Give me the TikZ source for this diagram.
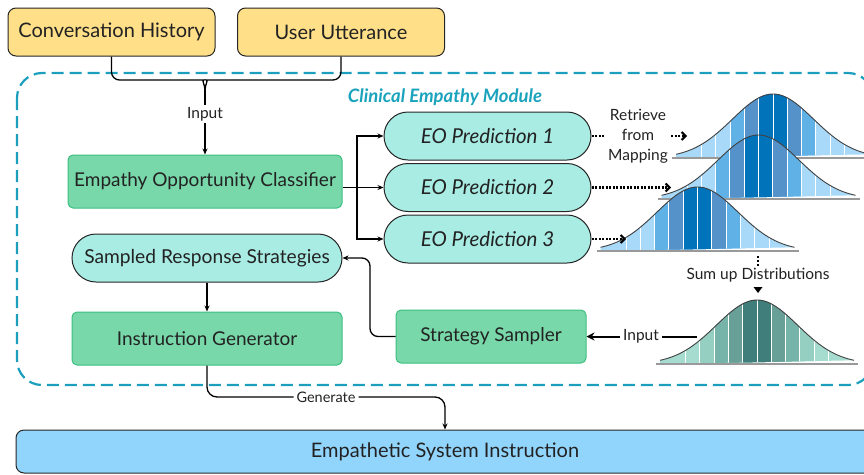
\documentclass[tikz,border=0pt]{standalone}
\usepackage{fontspec}
\setmainfont{Lato}
\usetikzlibrary{arrows.meta,calc}
\definecolor{yellowc}{HTML}{FFDF88}
\definecolor{greenc}{HTML}{78D8AA}
\definecolor{greenb}{HTML}{3DBF80}
\definecolor{tealc}{HTML}{A8ECE4}
\definecolor{esic}{HTML}{92D5FC}
\definecolor{dashc}{HTML}{1C9FBD}
\definecolor{titlec}{HTML}{1AA3BC}
\definecolor{txtc}{HTML}{222222}
\definecolor{bvl}{HTML}{A8D9F8}
\definecolor{bl}{HTML}{5FB1E6}
\definecolor{bs}{HTML}{5592C9}
\definecolor{bd}{HTML}{0073BB}
\definecolor{t0}{HTML}{A6DCCF}
\definecolor{t1}{HTML}{95CFC2}
\definecolor{t2}{HTML}{76B3A8}
\definecolor{t3}{HTML}{68A098}
\definecolor{t4}{HTML}{3F7E7A}
\newcommand{\gaussdist}[7]{%
  \begin{scope}
    \clip (#1-97,#2) -- plot[domain=-97:97,samples=61,smooth] ({#1+\x},{#2-64*exp(-((\x)*(\x))/3300)}) -- cycle;
    \fill[#3] (#1-98,#2+1) rectangle (#1+98,#2-66);
    \fill[#4] (#1-57.2,#2+1) rectangle (#1+57.2,#2-66);
    \fill[#5] (#1-42.9,#2+1) rectangle (#1+42.9,#2-66);
    \fill[#6] (#1-28.6,#2+1) rectangle (#1+28.6,#2-66);
    \fill[#7] (#1-14.3,#2+1) rectangle (#1+14.3,#2-66);
    \foreach \k in {-5,...,5} \draw[white, line width=0.9pt] ({#1+\k*14.3},#2) -- ++(0,-66);
  \end{scope}
  \draw[line width=0.9pt, black!75] plot[domain=-97:97,samples=61,smooth] ({#1+\x},{#2-64*exp(-((\x)*(\x))/3300)});
  \draw[line width=1.3pt, black!40] (#1-101,#2) -- (#1+101,#2);
}
\begin{document}
\begin{tikzpicture}[x=1pt,y=-1pt,
  every node/.style={text=txtc},
  ybox/.style={draw=black!85, fill=yellowc, rounded corners=8, line width=1pt, minimum width=207, minimum height=48, inner sep=0, font=\fontsize{20}{22}\selectfont},
  gbox/.style={draw=greenb, fill=greenc, rounded corners=5, line width=1pt, inner sep=0, font=\fontsize{19}{22}\selectfont},
  pill/.style={draw=black!85, fill=tealc, rounded corners=24, line width=1pt, inner sep=0, minimum height=48, font=\fontsize{19.2}{22}\selectfont},
  eopill/.style={pill, minimum width=207, font=\fontsize{20.5}{22}\selectfont\itshape},
  ebox/.style={draw=black!85, fill=esic, rounded corners=8, line width=1pt, inner sep=0, font=\fontsize{20}{22}\selectfont},
  lbl/.style={fill=white, inner sep=2, font=\fontsize{15.5}{18}\selectfont},
  arr/.style={-{Stealth[length=6pt,width=5pt]}, line width=1.3pt, black},
  conn/.style={line width=1.3pt, black},
  dotarr/.style={line width=2.2pt, dash pattern=on 2pt off 1.5pt, -{Straight Barb[length=4pt,width=8pt,line width=2pt]}},
  dotln/.style={line width=2.2pt, dash pattern=on 2pt off 1.5pt},
  modbox/.style={draw=dashc, line width=2.2pt, dash pattern=on 12pt off 6pt, rounded corners=25}
]
\useasboundingbox (0,0) rectangle (864,474);

% module frame
\draw[modbox] (17,73) rectangle (873,385);
\node[font=\fontsize{18.5}{20}\selectfont\bfseries\itshape, text=titlec] (title) at (445,97) {Clinical Empathy Module};

% top inputs
\node[ybox] (CH) at (111.5,32) {Conversation History};
\node[ybox] (UU) at (341,32) {User Utterance};
\coordinate (tip) at (205,90);
\draw[conn, rounded corners=8] (CH.south) |- (196,80) to[out=0,in=90] (tip);
\draw[conn, rounded corners=8] (UU.south) |- (214,80) to[out=180,in=90] (tip);
\node[lbl] (inp) at (205,114) {Input};
\draw[conn] (tip) -- (inp.north);

% main nodes
\node[gbox, minimum width=274, minimum height=53] (EOC) at (205,181.5) {Empathy Opportunity Classifier};
\draw[arr] (inp.south) -- (EOC.north);
\node[eopill] (EO1) at (487.5,136) {EO Prediction 1};
\node[eopill] (EO2) at (487.5,187.5) {EO Prediction 2};
\node[eopill] (EO3) at (487.5,239) {EO Prediction 3};
\coordinate (br) at (357,187.5);
\draw[arr] (EOC.east |- EO2.west) -- (EO2.west);
\draw[arr] (br) |- (EO1.west);
\draw[arr] (br) |- (EO3.west);

\node[pill, minimum width=270] (SRS) at (207,258) {Sampled Response Strategies};
\node[gbox, minimum width=270, minimum height=53] (IG) at (207,338.5) {Instruction Generator};
\node[gbox, minimum width=190, minimum height=53] (SS) at (491,336.5) {Strategy Sampler};
\draw[arr] (SRS.south) -- (IG.north);
\coordinate (c1) at (370,258);
\draw[arr, rounded corners=8] (SS.west) -| (c1) -- (SRS.east);

\node[ebox, minimum width=858, minimum height=43] (ESI) at (445,451.5) {Empathetic System Instruction};
\draw[arr, rounded corners=10] (IG.south) |- node[lbl, pos=0.75, font=\fontsize{14.5}{16}\selectfont, inner sep=3] {Generate} (ESI.north |- 0,397) -- (ESI.north);

% distributions
\gaussdist{773}{158}{bvl}{bvl}{bl}{bs}{bd}
\gaussdist{758.5}{199}{bvl}{bvl}{bl}{bs}{bd}
\gaussdist{697.5}{251}{bvl}{bvl}{bl}{bs}{bd}
\gaussdist{757}{364}{t0}{t1}{t2}{t3}{t4}

% retrieve arrows
\node[align=center, font=\fontsize{15.5}{20}\selectfont, inner sep=3] (RM) at (638,136) {Retrieve\\from\\Mapping};
\coordinate (d1) at (687,136);
\coordinate (d2) at (671,187.5);
\coordinate (d3) at (626,239);
\draw[dotln] (EO1.east) -- (RM.west);
\draw[dotarr] (RM.east) -- (d1);
\draw[dotarr] (EO2.east) -- (d2);
\draw[dotarr] (EO3.east) -- (d3);

% sum up
\coordinate (s1) at (758,256);
\node[font=\fontsize{15.5}{18}\selectfont, inner sep=1] (SU) at (758,275) {Sum up Distributions};
\draw[line width=1.8pt, dash pattern=on 1.8pt off 2.2pt] (s1) -- (SU.north);
\fill[black] (753.5,287) -- (762.5,287) -- (758,293) -- cycle;

% input to sampler
\coordinate (sl) at (697,336.5);
\node[lbl, font=\fontsize{15.5}{18}\selectfont, inner sep=3] (inp2) at (641,336.5) {Input};
\draw[line width=2pt] (sl) -- (inp2.east);
\draw[-{Stealth[length=8pt,width=8pt]}, line width=2pt] (inp2.west) -- (SS.east);
\end{tikzpicture}
\end{document}
